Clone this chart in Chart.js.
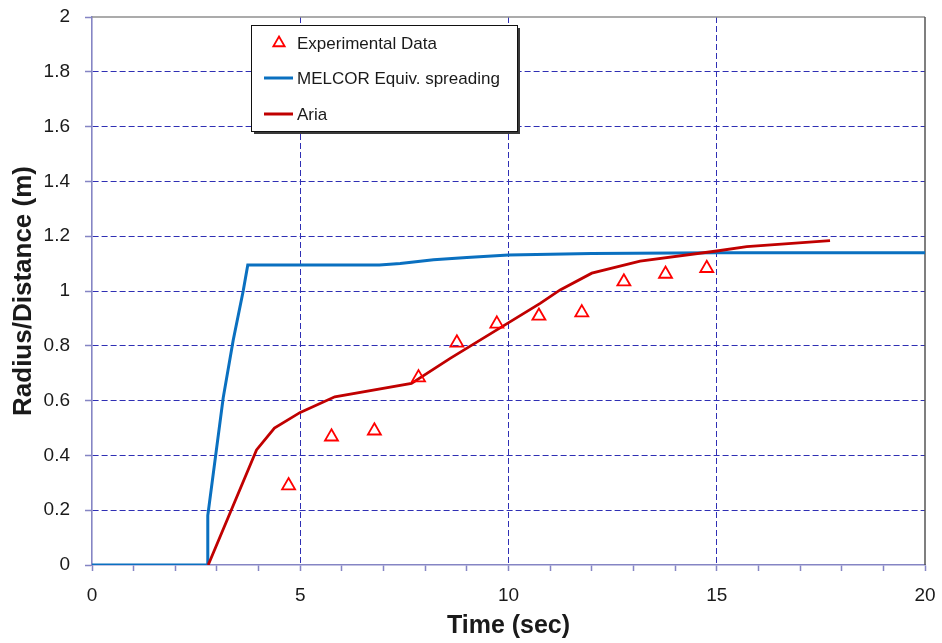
<!DOCTYPE html>
<html>
<head>
<meta charset="utf-8">
<script src="https://cdn.jsdelivr.net/npm/chart.js@4/dist/chart.umd.min.js"></script>
<style>
  html, body { margin: 0; padding: 0; background: #ffffff; }
  #wrap { width: 942px; height: 643px; position: relative; }
</style>
</head>
<body>
<div id="wrap"><canvas id="c" width="942" height="643"></canvas></div>
<script>
// ---- data ----
const expTime   = [4.72, 5.75, 6.78, 7.84, 8.76, 9.72, 10.73, 11.76, 12.77, 13.77, 14.76];
const expRadius = [0.29, 0.468, 0.49, 0.684, 0.811, 0.88, 0.909, 0.921, 1.034, 1.062, 1.083];

const melcorTime   = [0, 2.77, 2.78, 3.15, 3.39, 3.63, 3.74, 6.9, 7.4, 8.2, 9.0, 10.0, 11.0, 12.0, 13.0, 15.0, 20.0];
const melcorRadius = [0, 0, 0.18, 0.61, 0.82, 1.0, 1.095, 1.095, 1.10, 1.114, 1.122, 1.131, 1.134, 1.137, 1.138, 1.14, 1.14];

const ariaTime   = [2.79, 3.95, 4.38, 5.0, 5.83, 7.67, 8.6, 9.72, 10.76, 11.24, 12.0, 13.16, 15.0, 15.72, 17.72];
const ariaRadius = [0, 0.42, 0.50, 0.557, 0.614, 0.663, 0.754, 0.858, 0.955, 1.004, 1.065, 1.109, 1.146, 1.162, 1.184];

const seriesNames = ['Experimental Data', 'MELCOR Equiv. spreading', 'Aria'];
const xTitle = 'Time (sec)';
const yTitle = 'Radius/Distance (m)';
const xTickLabels = [0, 5, 10, 15, 20];
const yTickLabels = ['0', '0.2', '0.4', '0.6', '0.8', '1', '1.2', '1.4', '1.6', '1.8', '2'];

const toPts = (xs, ys) => xs.map((x, i) => ({ x: x, y: ys[i] }));

const GRID = '#2f2fb4';
const AXIS = '#8585c4';
const TEXT = '#1a1a1a';
const FONT = '"Liberation Sans", Arial, sans-serif';

const frameAndLegend = {
  id: 'frameAndLegend',
  beforeDatasetsDraw(chart) {
    const { ctx, chartArea: a } = chart;
    ctx.save();
    ctx.setLineDash([]);
    ctx.lineWidth = 1.5;
    ctx.strokeStyle = '#8f8f8f';
    ctx.beginPath(); ctx.moveTo(a.left, a.top); ctx.lineTo(a.right, a.top); ctx.stroke();
    ctx.strokeStyle = '#555555';
    ctx.beginPath(); ctx.moveTo(a.right, a.top); ctx.lineTo(a.right, a.bottom); ctx.stroke();
    ctx.restore();
  },
  afterDraw(chart) {
    const { ctx } = chart;
    const ds = chart.data.datasets;
    const bx = 251, by = 25, bw = 266, bh = 106;
    ctx.save();
    ctx.fillStyle = '#3a3a3a';
    ctx.fillRect(bx + 3, by + 3, bw, bh);
    ctx.fillStyle = '#ffffff';
    ctx.fillRect(bx, by, bw, bh);
    ctx.strokeStyle = '#111111';
    ctx.lineWidth = 1;
    ctx.strokeRect(bx + 0.5, by + 0.5, bw, bh);
    const rows = [43, 78, 114];
    ctx.font = '17px ' + FONT;
    ctx.textBaseline = 'middle';
    ctx.textAlign = 'left';
    ds.forEach((d, i) => {
      const yy = rows[i];
      if (d.showLine === false) {
        const r = 6.5, cx = 279;
        ctx.strokeStyle = d.borderColor;
        ctx.lineWidth = 1.8;
        ctx.beginPath();
        ctx.moveTo(cx, yy - r);
        ctx.lineTo(cx + r * 0.87, yy + r * 0.5);
        ctx.lineTo(cx - r * 0.87, yy + r * 0.5);
        ctx.closePath();
        ctx.stroke();
      } else {
        ctx.strokeStyle = d.borderColor;
        ctx.lineWidth = 3;
        ctx.beginPath(); ctx.moveTo(264, yy); ctx.lineTo(293, yy); ctx.stroke();
      }
      ctx.fillStyle = TEXT;
      ctx.fillText(d.label, 297, yy + 1);
    });
    ctx.restore();
  }
};

new Chart(document.getElementById('c'), {
  type: 'scatter',
  data: {
    datasets: [
      {
        label: seriesNames[0],
        data: toPts(expTime, expRadius),
        showLine: false,
        pointStyle: 'triangle',
        pointRadius: 7.5,
        pointBorderWidth: 1.8,
        borderColor: '#ff0000',
        backgroundColor: 'rgba(255,255,255,0)',
        pointBackgroundColor: 'rgba(255,255,255,0)',
        order: 0
      },
      {
        label: seriesNames[1],
        data: toPts(melcorTime, melcorRadius),
        showLine: true,
        borderColor: '#0a70c0',
        backgroundColor: '#0a70c0',
        borderWidth: 3,
        pointRadius: 0,
        tension: 0,
        order: 2
      },
      {
        label: seriesNames[2],
        data: toPts(ariaTime, ariaRadius),
        showLine: true,
        borderColor: '#c00000',
        backgroundColor: '#c00000',
        borderWidth: 2.8,
        pointRadius: 0,
        tension: 0,
        order: 1
      }
    ]
  },
  options: {
    responsive: false,
    animation: false,
    devicePixelRatio: 1,
    layout: { padding: { top: 17, right: 17, left: 0, bottom: 0 } },
    plugins: { legend: { display: false }, tooltip: { enabled: false } },
    scales: {
      x: {
        type: 'linear',
        min: 0, max: 20,
        afterFit(s) { s.height = 78; s.paddingLeft = 0; s.paddingRight = 0; },
        ticks: {
          stepSize: 1,
          autoSkip: false,
          maxRotation: 0,
          padding: 13,
          color: TEXT,
          font: { family: FONT, size: 19 },
          callback: (v) => (xTickLabels.includes(v) ? String(v) : '')
        },
        grid: {
          color: (c) => {
            const v = c.tick ? c.tick.value : null;
            return (v !== null && v % 5 === 0 && v !== 0 && v !== 20) ? GRID : 'rgba(0,0,0,0)';
          },
          lineWidth: 1,
          drawTicks: true,
          tickLength: 6,
          tickColor: AXIS,
          tickWidth: 1.5,
          tickBorderDash: [1, 0]
        },
        border: { display: true, color: AXIS, width: 1.6, dash: [6, 3] },
        title: {
          display: true,
          text: xTitle,
          color: TEXT,
          font: { family: FONT, size: 25, weight: 'bold' },
          padding: { top: 0, bottom: 2 }
        }
      },
      y: {
        min: 0, max: 2,
        afterFit(s) { s.width = 92; s.paddingTop = 0; s.paddingBottom = 0; },
        ticks: {
          stepSize: 0.2,
          autoSkip: false,
          padding: 15,
          color: TEXT,
          font: { family: FONT, size: 19 },
          callback: (v) => {
            const idx = Math.round(v / 0.2);
            return yTickLabels[idx] !== undefined ? yTickLabels[idx] : '';
          }
        },
        grid: {
          color: (c) => {
            const v = c.tick ? c.tick.value : null;
            return (v !== null && v > 0.01 && v < 1.99) ? GRID : 'rgba(0,0,0,0)';
          },
          lineWidth: 1,
          drawTicks: true,
          tickLength: 7,
          tickColor: AXIS,
          tickWidth: 1.5,
          tickBorderDash: [1, 0]
        },
        border: { display: true, color: AXIS, width: 1.6, dash: [6, 3] },
        title: {
          display: true,
          text: yTitle,
          color: TEXT,
          font: { family: FONT, size: 26, weight: 'bold' },
          padding: { top: 8, bottom: 0 }
        }
      }
    }
  },
  plugins: [frameAndLegend]
});
</script>
</body>
</html>
